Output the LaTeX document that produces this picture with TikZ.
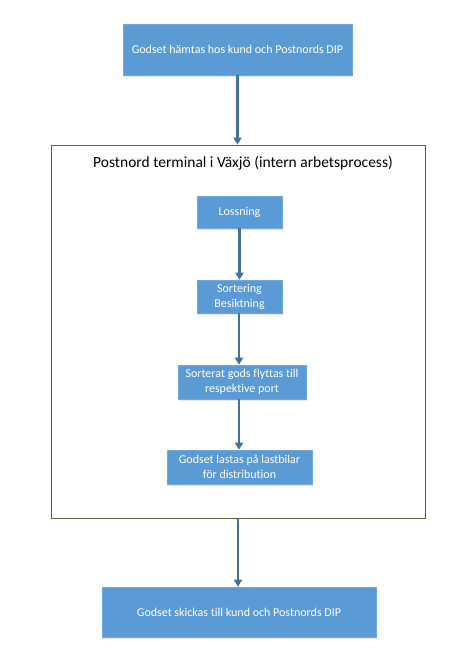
\documentclass[tikz,border=0pt]{standalone}
\usepackage{fontspec}
\setmainfont{Carlito}[Ligatures={NoCommon,NoRare}]
\usetikzlibrary{arrows.meta,shadows}
\definecolor{boxblue}{HTML}{5B9BD5}
\definecolor{boxedge}{HTML}{6FA8DC}
\definecolor{arrowblue}{HTML}{41719C}
\definecolor{framegreen}{HTML}{55683D}
\begin{document}
\begin{tikzpicture}[x=1pt, y=-1pt,
        stepbox/.style={rectangle, fill=boxblue, draw=boxedge, line width=0.6pt, text=white,
            font=\fontsize{12}{15}\selectfont, align=center, inner sep=0pt,
            drop shadow={opacity=0.18, shadow xshift=1pt, shadow yshift=-1.5pt}},
        flow/.style={draw=arrowblue, line width=2.4pt, -{Triangle[width=8pt,length=7pt]}}]
                \useasboundingbox (0,0) rectangle (456,667);
                % Nodes
                \node[stepbox, minimum width=229pt, minimum height=51pt] at (237.5, 49.5)  (hamtas)   {Godset hämtas hos kund och Postnords DIP};
                \node[rectangle, draw=framegreen, line width=0.8pt, minimum width=374pt, minimum height=373pt, inner sep=0pt] at (238, 331.5)  (terminal)  {};
                \node[font=\fontsize{15.5}{18}\selectfont] at (243, 163)  (rubrik)  {Postnord terminal i Växjö (intern arbetsprocess)};
                \node[stepbox, minimum width=85pt, minimum height=32pt] at (239.5, 212)  (lossning)  {Lossning};
                \node[stepbox, minimum width=85pt, minimum height=33pt] at (239.5, 296.5)  (sortering)  {Sortering\\Besiktning};
                \node[stepbox, minimum width=128pt, minimum height=34pt] at (242, 382)  (flyttas)  {Sorterat gods flyttas till\\respektive port};
                \node[stepbox, minimum width=145pt, minimum height=34pt] at (239.5, 467)  (lastas)  {Godset lastas på lastbilar\\för distribution};
                \node[stepbox, minimum width=274pt, minimum height=50pt] at (239, 612)  (skickas)  {Godset skickas till kund och Postnords DIP};

                % Connectors
                \draw[flow]  (hamtas) -- (hamtas |- terminal.north);
                \draw[flow]  (lossning) -- (sortering);
                \draw[flow]  (sortering.south -| 239,0) -- (flyttas.north -| 239,0);
                \draw[flow]  (flyttas.south -| 239,0) -- (lastas.north -| 239,0);
                \draw[flow]  (terminal.south -| 238,0) -- (skickas.north -| 238,0);
            \end{tikzpicture}
\end{document}
